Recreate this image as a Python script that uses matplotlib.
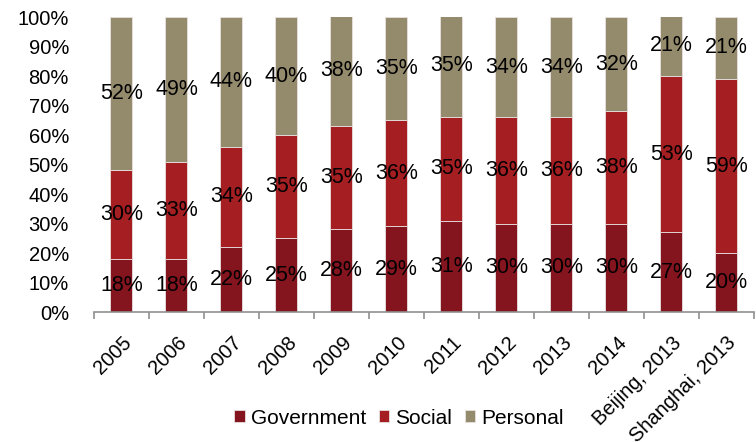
import numpy as np
import matplotlib.pyplot as plt

plt.rcParams['font.family'] = ['Liberation Sans', 'DejaVu Sans']

# Funding shares by source (percent)
categories = ["2005", "2006", "2007", "2008", "2009", "2010", "2011",
              "2012", "2013", "2014", "Beijing, 2013", "Shanghai, 2013"]
government = [18, 18, 22, 25, 28, 29, 31, 30, 30, 30, 27, 20]
social = [30, 33, 34, 35, 35, 36, 35, 36, 36, 38, 53, 59]
personal = [52, 49, 44, 40, 38, 35, 35, 34, 34, 32, 21, 21]

colors = {"Government": "#84141e", "Social": "#a51e22", "Personal": "#948a6c"}

fig = plt.figure(figsize=(7.56, 4.42), dpi=100)
ax = fig.add_axes([0.1243, 0.294, 0.873, 0.6675])

x = np.arange(len(categories))
bottom = np.zeros(len(categories))
for name, vals in [("Government", government), ("Social", social), ("Personal", personal)]:
    vals = np.array(vals, dtype=float)
    ax.bar(x, vals, 0.4, bottom=bottom, color=colors[name], label=name,
           edgecolor="#e8e0e0", linewidth=0.6)
    for xi, b, v in zip(x, bottom, vals):
        ax.text(xi, b + v / 2, f"{int(v)}%", ha="center", va="center",
                fontsize=15.5, color="black")
    bottom += vals

ax.set_xlim(-0.5, len(categories) - 0.5)
ax.set_ylim(0, 100)
ax.set_yticks(np.arange(0, 101, 10))
ax.set_yticklabels([f"{v}%" for v in range(0, 101, 10)], fontsize=14.5)
ax.tick_params(axis="y", length=0, pad=18)

# category ticks sit between bars
ax.set_xticks(x)
ax.set_xticklabels(categories, rotation=45, ha="right", rotation_mode="anchor", fontsize=14.5)
ax.tick_params(axis="x", length=0, pad=15)
ax.set_xticks(np.arange(-0.5, len(categories)), minor=True)
ax.tick_params(axis="x", which="minor", length=5, color="#909090", width=1.2)

for s in ["top", "right", "left"]:
    ax.spines[s].set_visible(False)
ax.spines["bottom"].set_color("#909090")
ax.spines["bottom"].set_linewidth(1.2)

fig.legend(loc="center", bbox_to_anchor=(0.528, 0.054), ncol=3, frameon=False,
           fontsize=15, handlelength=0.5, handleheight=0.5, handletextpad=0.3,
           columnspacing=0.6)

fig.savefig("out.png", dpi=100)
